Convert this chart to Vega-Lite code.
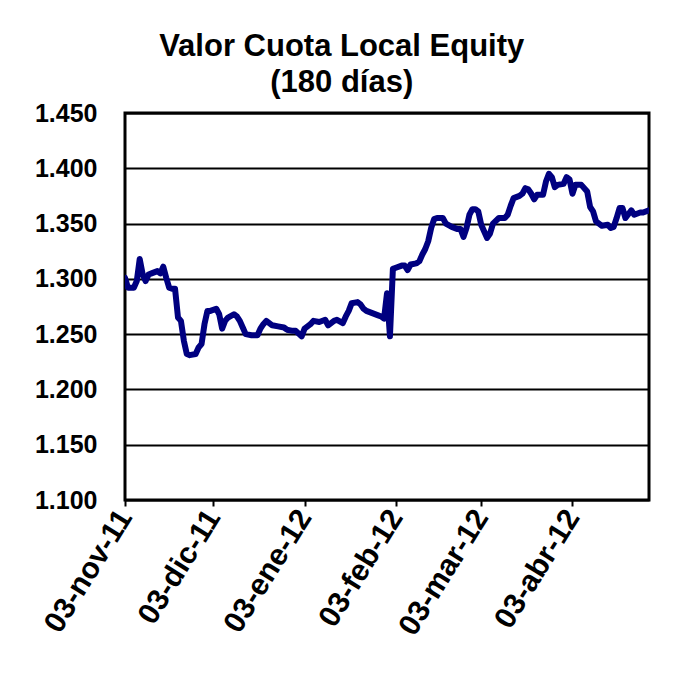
{
  "$schema": "https://vega.github.io/schema/vega-lite/v6.json",
  "autosize": "none",
  "width": 524,
  "height": 387,
  "padding": {"left": 125, "top": 113, "right": 26, "bottom": 179},
  "background": "white",
  "title": {
    "text": ["Valor Cuota Local Equity", "(180 días)"],
    "font": "Liberation Sans",
    "fontSize": 31,
    "fontWeight": "bold",
    "color": "black",
    "anchor": "middle",
    "frame": "bounds",
    "lineHeight": 36,
    "offset": 2
  },
  "data": {
    "values": [
      {"d": "2011-11-03", "v": 1301}, {"d": "2011-11-04", "v": 1292}, {"d": "2011-11-06", "v": 1292},
      {"d": "2011-11-07", "v": 1298}, {"d": "2011-11-08", "v": 1318}, {"d": "2011-11-09", "v": 1304},
      {"d": "2011-11-10", "v": 1298}, {"d": "2011-11-11", "v": 1304}, {"d": "2011-11-12", "v": 1305},
      {"d": "2011-11-14", "v": 1307}, {"d": "2011-11-15", "v": 1305}, {"d": "2011-11-16", "v": 1311},
      {"d": "2011-11-17", "v": 1301}, {"d": "2011-11-18", "v": 1292}, {"d": "2011-11-19", "v": 1291},
      {"d": "2011-11-20", "v": 1291}, {"d": "2011-11-21", "v": 1265}, {"d": "2011-11-22", "v": 1262},
      {"d": "2011-11-23", "v": 1244}, {"d": "2011-11-24", "v": 1232}, {"d": "2011-11-25", "v": 1231},
      {"d": "2011-11-27", "v": 1232}, {"d": "2011-11-28", "v": 1238}, {"d": "2011-11-29", "v": 1241},
      {"d": "2011-11-30", "v": 1259}, {"d": "2011-12-01", "v": 1271}, {"d": "2011-12-02", "v": 1271},
      {"d": "2011-12-04", "v": 1273}, {"d": "2011-12-05", "v": 1268}, {"d": "2011-12-06", "v": 1255},
      {"d": "2011-12-07", "v": 1262}, {"d": "2011-12-08", "v": 1265}, {"d": "2011-12-10", "v": 1268},
      {"d": "2011-12-11", "v": 1266}, {"d": "2011-12-12", "v": 1262}, {"d": "2011-12-13", "v": 1256},
      {"d": "2011-12-14", "v": 1250}, {"d": "2011-12-16", "v": 1249}, {"d": "2011-12-18", "v": 1249},
      {"d": "2011-12-19", "v": 1255}, {"d": "2011-12-20", "v": 1259}, {"d": "2011-12-21", "v": 1262},
      {"d": "2011-12-23", "v": 1258}, {"d": "2011-12-25", "v": 1257}, {"d": "2011-12-27", "v": 1256},
      {"d": "2011-12-28", "v": 1254}, {"d": "2011-12-30", "v": 1253}, {"d": "2011-12-31", "v": 1253},
      {"d": "2012-01-02", "v": 1248}, {"d": "2012-01-03", "v": 1255}, {"d": "2012-01-05", "v": 1259},
      {"d": "2012-01-06", "v": 1262}, {"d": "2012-01-08", "v": 1261}, {"d": "2012-01-10", "v": 1263},
      {"d": "2012-01-11", "v": 1258}, {"d": "2012-01-13", "v": 1262}, {"d": "2012-01-14", "v": 1263},
      {"d": "2012-01-16", "v": 1260}, {"d": "2012-01-17", "v": 1266}, {"d": "2012-01-18", "v": 1271},
      {"d": "2012-01-19", "v": 1278}, {"d": "2012-01-21", "v": 1279}, {"d": "2012-01-22", "v": 1277},
      {"d": "2012-01-23", "v": 1273}, {"d": "2012-01-24", "v": 1271}, {"d": "2012-01-26", "v": 1269},
      {"d": "2012-01-28", "v": 1267}, {"d": "2012-01-29", "v": 1266}, {"d": "2012-01-30", "v": 1264},
      {"d": "2012-01-31", "v": 1287}, {"d": "2012-02-01", "v": 1248}, {"d": "2012-02-02", "v": 1309},
      {"d": "2012-02-03", "v": 1310}, {"d": "2012-02-05", "v": 1312}, {"d": "2012-02-06", "v": 1312},
      {"d": "2012-02-07", "v": 1308}, {"d": "2012-02-08", "v": 1313}, {"d": "2012-02-10", "v": 1314},
      {"d": "2012-02-11", "v": 1316}, {"d": "2012-02-12", "v": 1322}, {"d": "2012-02-13", "v": 1327},
      {"d": "2012-02-14", "v": 1334}, {"d": "2012-02-15", "v": 1346}, {"d": "2012-02-16", "v": 1354},
      {"d": "2012-02-17", "v": 1355}, {"d": "2012-02-19", "v": 1355}, {"d": "2012-02-20", "v": 1350},
      {"d": "2012-02-22", "v": 1347}, {"d": "2012-02-24", "v": 1345}, {"d": "2012-02-25", "v": 1345},
      {"d": "2012-02-26", "v": 1338}, {"d": "2012-02-27", "v": 1346}, {"d": "2012-02-28", "v": 1358},
      {"d": "2012-02-29", "v": 1363}, {"d": "2012-03-01", "v": 1363}, {"d": "2012-03-02", "v": 1361},
      {"d": "2012-03-03", "v": 1349}, {"d": "2012-03-05", "v": 1337}, {"d": "2012-03-06", "v": 1341},
      {"d": "2012-03-07", "v": 1350}, {"d": "2012-03-09", "v": 1355}, {"d": "2012-03-11", "v": 1355},
      {"d": "2012-03-12", "v": 1358}, {"d": "2012-03-13", "v": 1366}, {"d": "2012-03-14", "v": 1373},
      {"d": "2012-03-16", "v": 1375}, {"d": "2012-03-17", "v": 1377}, {"d": "2012-03-18", "v": 1382},
      {"d": "2012-03-19", "v": 1381}, {"d": "2012-03-20", "v": 1377}, {"d": "2012-03-21", "v": 1372},
      {"d": "2012-03-22", "v": 1376}, {"d": "2012-03-24", "v": 1376}, {"d": "2012-03-25", "v": 1388},
      {"d": "2012-03-26", "v": 1395}, {"d": "2012-03-27", "v": 1392}, {"d": "2012-03-28", "v": 1383},
      {"d": "2012-03-29", "v": 1385}, {"d": "2012-03-31", "v": 1386}, {"d": "2012-04-01", "v": 1392},
      {"d": "2012-04-02", "v": 1390}, {"d": "2012-04-03", "v": 1377}, {"d": "2012-04-04", "v": 1385},
      {"d": "2012-04-05", "v": 1385}, {"d": "2012-04-06", "v": 1385}, {"d": "2012-04-08", "v": 1379},
      {"d": "2012-04-09", "v": 1365}, {"d": "2012-04-10", "v": 1361}, {"d": "2012-04-11", "v": 1352},
      {"d": "2012-04-13", "v": 1348}, {"d": "2012-04-15", "v": 1349}, {"d": "2012-04-16", "v": 1346},
      {"d": "2012-04-17", "v": 1347}, {"d": "2012-04-18", "v": 1355}, {"d": "2012-04-19", "v": 1364},
      {"d": "2012-04-20", "v": 1364}, {"d": "2012-04-21", "v": 1355}, {"d": "2012-04-23", "v": 1362},
      {"d": "2012-04-24", "v": 1358}, {"d": "2012-04-26", "v": 1360}, {"d": "2012-04-27", "v": 1360},
      {"d": "2012-04-29", "v": 1362}
    ]
  },
  "mark": {"type": "line", "color": "#000080", "strokeWidth": 6, "clip": true, "strokeJoin": "round", "strokeCap": "round"},
  "encoding": {
    "x": {
      "field": "d",
      "type": "temporal",
      "scale": {
        "type": "utc",
        "domain": [
          {"year": 2011, "month": 11, "date": 3, "utc": true},
          {"year": 2012, "month": 4, "date": 29, "utc": true}
        ]
      },
      "axis": {
        "title": null,
        "grid": false,
        "domain": false,
        "values": [
          {"year": 2011, "month": 11, "date": 3, "utc": true},
          {"year": 2011, "month": 12, "date": 3, "utc": true},
          {"year": 2012, "month": 1, "date": 3, "utc": true},
          {"year": 2012, "month": 2, "date": 3, "utc": true},
          {"year": 2012, "month": 3, "date": 3, "utc": true},
          {"year": 2012, "month": 4, "date": 3, "utc": true}
        ],
        "labelExpr": "utcFormat(datum.value, '%d') + '-' + ['ene','feb','mar','abr','may','jun','jul','ago','sep','oct','nov','dic'][utcmonth(datum.value)] + '-' + utcFormat(datum.value, '%y')",
        "labelAngle": -58,
        "labelAlign": "right",
        "labelBaseline": "middle",
        "labelFont": "Liberation Sans",
        "labelFontSize": 30,
        "labelFontWeight": "bold",
        "labelColor": "black",
        "labelPadding": 6,
        "labelOverlap": false,
        "labelBound": false,
        "labelFlush": false,
        "ticks": true,
        "tickColor": "black",
        "tickWidth": 2,
        "tickSize": 6
      }
    },
    "y": {
      "field": "v",
      "type": "quantitative",
      "scale": {"domain": [1100, 1450], "nice": false, "zero": false},
      "axis": {
        "title": null,
        "values": [1100, 1150, 1200, 1250, 1300, 1350, 1400, 1450],
        "labelExpr": "replace(format(datum.value, ',d'), ',', '.')",
        "labelFont": "Liberation Sans",
        "labelFontSize": 25,
        "labelFontWeight": "bold",
        "labelColor": "black",
        "labelPadding": 28,
        "ticks": false,
        "domain": false,
        "grid": true,
        "gridColor": "black",
        "gridWidth": 2,
        "gridOpacity": 1
      }
    }
  },
  "config": {
    "view": {"stroke": "black", "strokeWidth": 3}
  }
}
